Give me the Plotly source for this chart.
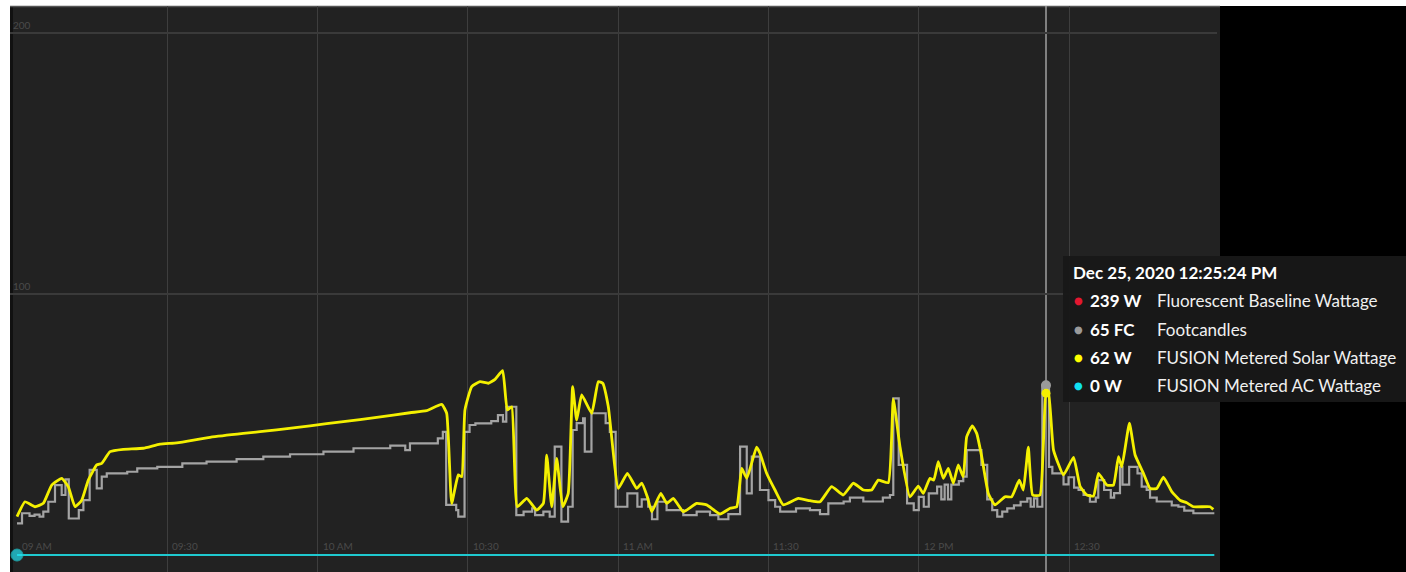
import plotly.graph_objects as go

DATE = "2020-12-25 "

# ---------------- data ----------------
solar_times = [
    "09:00:00", "09:01:36", "09:03:36", "09:05:15", "09:06:56", "09:08:55", "09:10:14", "09:11:35",
    "09:12:55", "09:14:14", "09:15:55", "09:16:54", "09:18:34", "09:21:13", "09:25:12", "09:28:32",
    "09:31:53", "09:38:31", "09:45:10", "09:51:50", "09:58:29", "10:05:08", "10:11:48", "10:18:26",
    "10:21:46", "10:24:46", "10:25:46", "10:26:46", "10:28:05", "10:28:46", "10:29:25", "10:30:46",
    "10:32:25", "10:34:05", "10:35:25", "10:36:56", "10:37:52", "10:38:45", "10:39:52", "10:41:45",
    "10:43:44", "10:45:04", "10:45:44", "10:46:44", "10:47:44", "10:48:56", "10:50:02", "10:50:55",
    "10:51:43", "10:52:43", "10:54:43", "10:56:02", "10:56:55", "10:58:02", "11:00:02", "11:01:50",
    "11:03:42", "11:04:42", "11:05:49", "11:06:42", "11:08:30", "11:09:42", "11:11:00", "11:13:00",
    "11:15:40", "11:17:40", "11:20:20", "11:22:20", "11:23:40", "11:24:40", "11:25:40", "11:27:38",
    "11:28:18", "11:29:38", "11:31:18", "11:32:58", "11:35:57", "11:38:17", "11:40:17", "11:42:37",
    "11:44:56", "11:46:56", "11:48:56", "11:50:36", "11:51:55", "11:53:55", "11:54:55", "11:56:15",
    "11:58:14", "11:59:54", "12:00:54", "12:02:14", "12:03:00", "12:03:54", "12:04:54", "12:05:54",
    "12:06:54", "12:07:53", "12:08:53", "12:09:34", "12:10:41", "12:11:34", "12:12:34", "12:13:53",
    "12:15:13", "12:17:13", "12:18:33", "12:20:04", "12:20:52", "12:21:52", "12:22:44", "12:24:12",
    "12:25:24", "12:25:54", "12:26:54", "12:28:54", "12:30:54", "12:32:13", "12:33:33", "12:34:53",
    "12:35:53", "12:37:33", "12:38:52", "12:39:52", "12:40:32", "12:42:03", "12:43:11", "12:44:51",
    "12:46:11", "12:47:30", "12:48:50", "12:50:30", "12:52:09", "12:53:29", "12:54:49", "12:58:08",
    "12:58:48",
]
solar_w = [
    14.7, 20.4, 18.5, 19.8, 26.8, 29.4, 26.2, 18.5,
    21.0, 28.7, 34.5, 35.1, 39.6, 40.5, 40.9, 42.5,
    43.0, 45.1, 46.6, 47.9, 49.5, 51.1, 52.7, 54.5,
    55.3, 57.7, 54.3, 19.8, 30.7, 30.0, 55.6, 64.5,
    66.4, 65.8, 67.3, 70.6, 55.6, 56.8, 18.5, 21.7,
    17.2, 19.8, 38.3, 18.5, 37.0, 18.5, 23.6, 64.5,
    51.7, 61.3, 54.3, 66.4, 65.8, 56.8, 25.5, 31.3,
    25.5, 27.5, 22.3, 16.6, 23.6, 19.8, 21.7, 16.6,
    19.8, 19.2, 15.7, 17.9, 18.5, 33.2, 29.4, 41.3,
    39.0, 31.3, 24.9, 19.2, 21.7, 20.8, 20.4, 26.2,
    23.0, 27.5, 24.9, 24.9, 28.7, 27.7, 59.7, 41.5,
    22.3, 26.4, 23.6, 29.4, 28.7, 35.8, 29.4, 33.2,
    27.5, 34.5, 30.0, 45.3, 49.5, 46.6, 37.7, 23.6,
    19.2, 22.3, 22.3, 28.7, 24.9, 41.3, 23.0, 23.0,
    62.0, 62.0, 40.2, 30.7, 37.4, 26.2, 23.0, 22.6,
    31.3, 26.8, 26.8, 37.7, 33.8, 50.5, 38.3, 31.3,
    25.5, 25.5, 29.8, 24.3, 21.0, 20.0, 18.5, 18.5,
    17.5,
]

fc_times = [
    "09:00:00", "09:01:00", "09:02:30", "09:03:30", "09:04:30", "09:05:15", "09:06:15", "09:07:35",
    "09:08:55", "09:09:40", "09:10:20", "09:12:20", "09:13:15", "09:14:30", "09:15:55", "09:16:55",
    "09:17:55", "09:22:00", "09:24:00", "09:28:00", "09:33:00", "09:37:50", "09:43:50", "09:49:10",
    "09:54:30", "10:01:10", "10:07:10", "10:14:30", "10:17:30", "10:18:26", "10:24:00", "10:25:00",
    "10:25:40", "10:27:40", "10:28:05", "10:29:20", "10:30:20", "10:31:30", "10:34:40", "10:36:00",
    "10:37:00", "10:37:40", "10:39:40", "10:41:07", "10:42:50", "10:43:25", "10:45:04", "10:46:20",
    "10:47:20", "10:48:40", "10:50:00", "10:50:55", "10:51:43", "10:53:00", "10:53:20", "10:54:40",
    "10:57:30", "10:58:20", "10:59:30", "11:01:50", "11:03:50", "11:04:42", "11:06:00", "11:06:45",
    "11:07:50", "11:09:40", "11:13:00", "11:15:40", "11:18:20", "11:20:00", "11:22:00", "11:24:20",
    "11:25:40", "11:26:40", "11:28:18", "11:30:00", "11:31:20", "11:32:20", "11:35:30", "11:38:17",
    "11:40:17", "11:41:57", "11:45:00", "11:46:15", "11:48:56", "11:52:50", "11:54:15", "11:54:55",
    "11:56:00", "11:57:40", "11:59:00", "12:00:00", "12:01:00", "12:02:00", "12:03:40", "12:04:30",
    "12:05:10", "12:05:50", "12:06:30", "12:08:00", "12:08:53", "12:09:34", "12:12:30", "12:13:40",
    "12:14:40", "12:15:40", "12:16:40", "12:17:40", "12:19:00", "12:20:20", "12:21:40", "12:22:20",
    "12:23:00", "12:23:40", "12:24:40", "12:25:24", "12:26:00", "12:26:40", "12:28:54", "12:29:54",
    "12:31:00", "12:31:54", "12:32:54", "12:34:10", "12:35:20", "12:35:50", "12:37:00", "12:38:20",
    "12:39:00", "12:40:10", "12:40:40", "12:42:00", "12:43:40", "12:44:30", "12:45:30", "12:46:10",
    "12:47:30", "12:50:30", "12:51:50", "12:53:00", "12:54:49", "12:59:00",
]
fc_vals = [
    12.1, 16.0, 15.0, 15.5, 14.7, 16.6, 20.4, 26.8,
    23.0, 29.0, 14.0, 17.2, 21.0, 32.6, 25.5, 30.0,
    31.3, 31.9, 33.2, 33.8, 35.1, 35.8, 36.7, 37.7,
    38.6, 39.6, 40.9, 41.9, 40.2, 42.8, 44.7, 47.2,
    19.2, 17.2, 14.7, 47.2, 49.8, 50.4, 51.3, 53.6,
    51.1, 56.8, 15.3, 16.6, 17.9, 15.3, 16.6, 14.7,
    41.5, 12.8, 18.5, 47.9, 50.5, 52.4, 39.6, 54.3,
    50.5, 47.2, 18.5, 23.6, 18.5, 21.3, 18.5, 13.7,
    20.4, 17.2, 15.3, 16.6, 15.3, 13.7, 15.7, 41.5,
    23.6, 37.7, 24.9, 21.0, 18.5, 16.6, 17.9, 17.2,
    15.7, 19.8, 20.5, 22.0, 20.5, 22.0, 23.0, 60.0,
    34.5, 19.8, 17.2, 22.3, 18.5, 23.6, 26.2, 21.3,
    27.0, 21.3, 27.0, 28.3, 30.0, 40.2, 34.5, 21.3,
    17.2, 14.7, 16.6, 17.9, 19.0, 20.4, 21.7, 18.5,
    21.7, 18.5, 65.0, 65.0, 33.8, 31.3, 27.1, 29.8,
    25.8, 24.9, 23.0, 20.4, 22.0, 28.7, 24.9, 22.0,
    23.7, 33.8, 27.0, 33.8, 31.3, 26.2, 24.9, 22.0,
    20.5, 19.0, 18.5, 17.0, 16.0, 16.0,
]

ac_times = ["09:00:00", "12:59:00"]
ac_w = [0, 0]
baseline_times = ["09:00:00", "12:59:00"]
baseline_w = [239, 239]

tick_times = ["09:00", "09:30", "10:00", "10:30", "11:00", "11:30", "12:00", "12:30"]
tick_text = ["09 AM", "09:30", "10 AM", "10:30", "11 AM", "11:30", "12 PM", "12:30"]
y_ticks = [100, 200]

hover_time = "12:25:24"
hover_title = "Dec 25, 2020 12:25:24 PM"
tip_values = ["239 W", "65 FC", "62 W", "0 W"]
tip_names = ["Fluorescent Baseline Wattage", "Footcandles",
             "FUSION Metered Solar Wattage", "FUSION Metered AC Wattage"]
tip_colors = ["#e3172f", "#9a9a9a", "#ffff00", "#10e0f0"]
hover_fc = 65
hover_solar = 62

# ---------------- layout geometry ----------------
W, H = 1406, 572
ML, MR, MT, MB = 10, 189, 6, 0
PW = W - ML - MR
PH = H - MT - MB


def px(x):
    return (x - ML) / PW


def py(y):
    return (H - MB - y) / PH


def d(t):
    return DATE + t


fig = go.Figure()

fig.add_trace(go.Scatter(
    x=[d(t) for t in baseline_times], y=baseline_w, mode="lines",
    name="Fluorescent Baseline Wattage", line=dict(color=tip_colors[0], width=2)))

fig.add_trace(go.Scatter(
    x=[d(t) for t in fc_times], y=fc_vals, mode="lines", line_shape="hv",
    name="Footcandles", line=dict(color="#a4a4a4", width=2.2)))

fig.add_trace(go.Scatter(
    x=[d(t) for t in solar_times], y=solar_w, mode="lines", line_shape="spline",
    name="FUSION Metered Solar Wattage", line=dict(color="#f4f000", width=2.8, smoothing=0.4)))

fig.add_trace(go.Scatter(
    x=[d(t) for t in ac_times], y=ac_w, mode="lines+markers",
    name="FUSION Metered AC Wattage", line=dict(color="#1fc9cf", width=2),
    marker=dict(size=[12, 0], color="#22e0f0")))

# hover markers
fig.add_trace(go.Scatter(
    x=[d(hover_time)], y=[hover_fc], mode="markers",
    marker=dict(size=10, color="#9a9a9a"), showlegend=False))
fig.add_trace(go.Scatter(
    x=[d(hover_time)], y=[hover_solar], mode="markers",
    marker=dict(size=9, color="#f4f000"), showlegend=False))

shapes = [
    # dark chart panel
    dict(type="rect", xref="paper", yref="paper", x0=px(10), x1=px(1220), y0=py(572), y1=py(6),
         fillcolor="#222222", line=dict(width=0), layer="below"),
    dict(type="rect", xref="paper", yref="paper", x0=px(10), x1=px(13), y0=py(572), y1=py(6),
         fillcolor="#111111", line=dict(width=0), layer="below"),
    # black right area
    dict(type="rect", xref="paper", yref="paper", x0=px(1220), x1=px(1406), y0=py(572), y1=py(6),
         fillcolor="#000000", line=dict(width=0), layer="below"),
    # top border
    dict(type="line", xref="paper", yref="paper", x0=px(10), x1=px(1220), y0=py(6.5), y1=py(6.5),
         line=dict(color="#555555", width=1.5), layer="below"),
    # hover line
    dict(type="line", xref="x", yref="paper", x0=d(hover_time), x1=d(hover_time), y0=0, y1=1,
         line=dict(color="#a0a0a0", width=1.5), layer="below"),
    # tooltip box
    dict(type="rect", xref="paper", yref="paper", x0=px(1063), x1=px(1406), y0=py(402), y1=py(256),
         fillcolor="rgba(24,24,24,0.97)", line=dict(width=0), layer="above"),
]

annotations = []
# x tick labels drawn inside the plot, just above the zero line
for t, lab in zip(tick_times, tick_text):
    annotations.append(dict(xref="x", yref="paper", x=d(t), y=py(546), xanchor="left",
                            yanchor="middle", xshift=3, text=lab, showarrow=False,
                            font=dict(family="Lato, sans-serif", size=10, color="#4a4a4a")))

annotations.append(dict(xref="paper", yref="paper", x=px(1071), y=py(272), xanchor="left",
                        yanchor="middle", text="<b>" + hover_title + "</b>", showarrow=False,
                        font=dict(family="Lato, sans-serif", size=17, color="#ffffff")))
for i, (v, n, c) in enumerate(zip(tip_values, tip_names, tip_colors)):
    yy = 301 + 28 * i
    annotations.append(dict(xref="paper", yref="paper", x=px(1078), y=py(yy), xanchor="center",
                            yanchor="middle", text="●", showarrow=False,
                            font=dict(family="DejaVu Sans", size=10, color=c)))
    annotations.append(dict(xref="paper", yref="paper", x=px(1088), y=py(yy), xanchor="left",
                            yanchor="middle", text="<b>" + v + "</b>", showarrow=False,
                            font=dict(family="Lato, sans-serif", size=17, color="#ffffff")))
    annotations.append(dict(xref="paper", yref="paper", x=px(1155), y=py(yy), xanchor="left",
                            yanchor="middle", text=n, showarrow=False,
                            font=dict(family="Lato, sans-serif", size=17, color="#f0f0f0")))

fig.update_layout(
    width=W, height=H,
    margin=dict(l=ML, r=MR, t=MT, b=MB, pad=0),
    paper_bgcolor="#ffffff",
    plot_bgcolor="#222222",
    showlegend=False,
    shapes=shapes,
    annotations=annotations,
    font=dict(family="Lato, sans-serif"),
)

fig.update_xaxes(
    type="date",
    range=[d("08:58:36"), d("12:59:32")],
    tickvals=[d(t) for t in tick_times], ticktext=tick_text,
    showticklabels=False,
    showgrid=True, gridcolor="#3e3e3e", gridwidth=1,
    zeroline=False, showline=False, ticks="",
)
fig.update_yaxes(
    range=[-6.5, 210.3],
    tickvals=y_ticks,
    ticklabelposition="inside top",
    tickfont=dict(size=10, color="#4a4a4a"),
    showgrid=True, gridcolor="#3a3a3a", gridwidth=1.5,
    zeroline=False, showline=False, ticks="",
)

fig.write_html("out.html", config={"displayModeBar": False},
               post_script="document.body.style.margin='0';document.body.style.overflow='hidden';")
